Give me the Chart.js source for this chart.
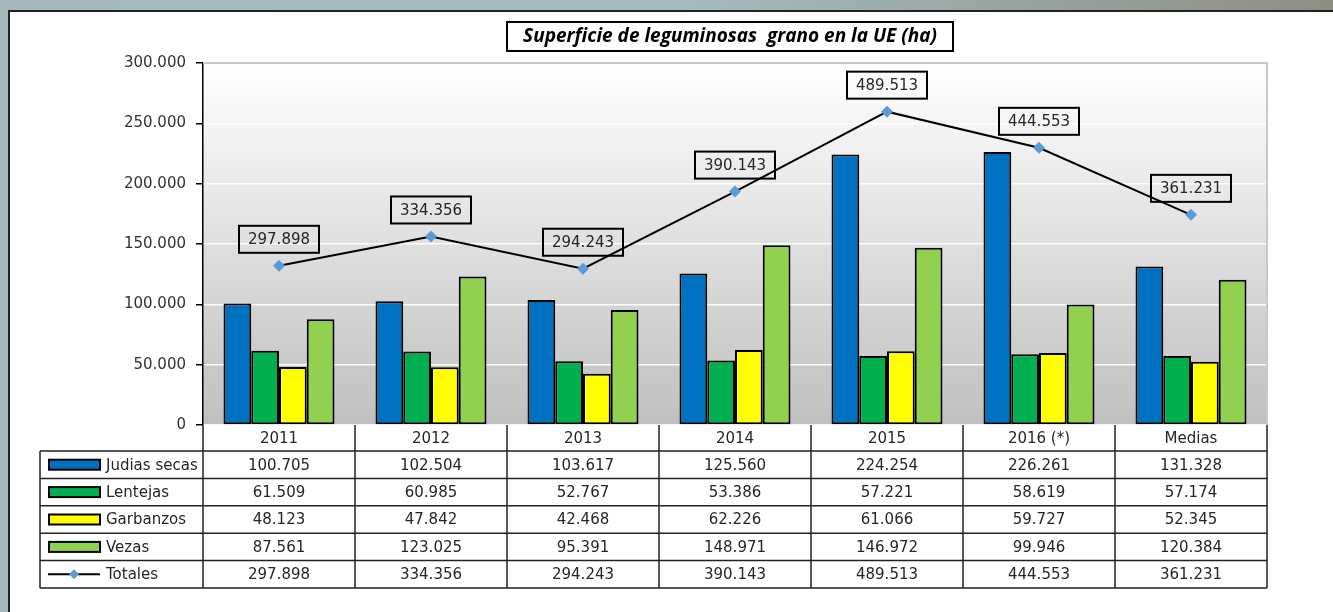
<!DOCTYPE html>
<html>
<head>
<meta charset="utf-8">
<script src="https://cdn.jsdelivr.net/npm/chart.js@4"></script>
<style>
   html, body { margin: 0; padding: 0; }
   body {
      width: 1333px; height: 612px; overflow: hidden; position: relative;
      background: linear-gradient(to right, #a3b9bd, #a4bcc0 50%, #8e8e84);
   }
   #panel {
      position: absolute; left: 8px; top: 10px; width: 1340px; height: 610px;
      background: #fff; border-left: 2px solid #222; border-top: 2px solid #222;
   }
   #wrap { position: absolute; left: 0; top: 0; width: 1333px; height: 612px; }
</style>
</head>
<body>
<div id="panel"></div>
<div id="wrap"><canvas id="myChart"></canvas></div>
<script>
const categories = ["2011", "2012", "2013", "2014", "2015", "2016 (*)", "Medias"];
const judias = [100705, 102504, 103617, 125560, 224254, 226261, 131328];
const lentejas = [61509, 60985, 52767, 53386, 57221, 58619, 57174];
const garbanzos = [48123, 47842, 42468, 62226, 61066, 59727, 52345];
const vezas = [87561, 123025, 95391, 148971, 146972, 99946, 120384];
const totales = [297898, 334356, 294243, 390143, 489513, 444553, 361231];
const yTicks = [0, 50000, 100000, 150000, 200000, 250000, 300000];

const FONT = "DejaVu Sans";
const TEXT = "#262626";

function fmt(n) {
   return String(n).replace(/\B(?=(\d{3})+(?!\d))/g, ".");
}

const rows = [
   { label: "Judias secas", color: "#0070c0", values: judias },
   { label: "Lentejas", color: "#00b050", values: lentejas },
   { label: "Garbanzos", color: "#ffff00", values: garbanzos },
   { label: "Vezas", color: "#92d050", values: vezas },
   { label: "Totales", line: true, values: totales },
];

const framePlugin = {
   id: "frame",
   beforeDraw(chart) {
      const { ctx, chartArea: a } = chart;
      const g = ctx.createLinearGradient(0, a.top, 0, a.bottom);
      g.addColorStop(0, "#ffffff");
      g.addColorStop(1, "#bfbfbf");
      ctx.save();
      ctx.fillStyle = g;
      ctx.fillRect(a.left, a.top, a.width, a.height);
      ctx.restore();
   },
   beforeDatasetsDraw(chart) {
      const { ctx, chartArea: a } = chart;
      ctx.save();
      ctx.strokeStyle = "#c8c8c8";
      ctx.lineWidth = 2;
      ctx.beginPath();
      ctx.moveTo(a.left, a.top);
      ctx.lineTo(a.right, a.top);
      ctx.lineTo(a.right, a.bottom);
      ctx.stroke();
      ctx.restore();
   },
   afterDatasetsDraw(chart) {
      // boxed labels over the totals line
      const { ctx } = chart;
      const meta = chart.getDatasetMeta(4);
      ctx.save();
      ctx.font = "15px " + FONT;
      ctx.textAlign = "center";
      ctx.textBaseline = "middle";
      meta.data.forEach((pt, i) => {
         const w = 80, h = 27;
         const x = pt.x - w / 2, y = pt.y - 13 - h;
         ctx.strokeStyle = "#000";
         ctx.lineWidth = 2;
         ctx.strokeRect(x, y, w, h);
         ctx.fillStyle = TEXT;
         ctx.fillText(fmt(totales[i]), pt.x, y + h / 2 + 1);
      });
      ctx.restore();
   },
   afterDraw(chart) {
      const { ctx, chartArea: a } = chart;
      const xs = chart.scales.x;
      const colW = a.width / categories.length;
      const headTop = a.bottom, headBot = a.bottom + 26;
      const rowH = 27.4;
      const tableBot = headBot + rowH * rows.length;
      const legLeft = 40;
      ctx.save();
      ctx.strokeStyle = "#222";
      ctx.lineWidth = 1.5;
      ctx.beginPath();
      for (let i = 0; i <= categories.length; i++) {
         const x = a.left + i * colW;
         ctx.moveTo(x, headTop);
         ctx.lineTo(x, tableBot);
      }
      ctx.moveTo(legLeft, headBot);
      ctx.lineTo(legLeft, tableBot);
      for (let r = 0; r <= rows.length; r++) {
         const y = headBot + r * rowH;
         ctx.moveTo(legLeft, y);
         ctx.lineTo(a.right, y);
      }
      ctx.stroke();

      ctx.font = "15px " + FONT;
      ctx.fillStyle = TEXT;
      ctx.textAlign = "center";
      ctx.textBaseline = "middle";
      categories.forEach((c, i) => {
         ctx.fillText(c, xs.getPixelForValue(i), (headTop + headBot) / 2 + 1);
      });
      rows.forEach((row, r) => {
         const cy = headBot + r * rowH + rowH / 2;
         row.values.forEach((v, i) => {
            ctx.fillStyle = TEXT;
            ctx.textAlign = "center";
            ctx.fillText(fmt(v), xs.getPixelForValue(i), cy + 1);
         });
         // legend key
         if (row.line) {
            ctx.strokeStyle = "#000";
            ctx.lineWidth = 2;
            ctx.beginPath();
            ctx.moveTo(48, cy);
            ctx.lineTo(100, cy);
            ctx.stroke();
            ctx.fillStyle = "#5b9bd5";
            ctx.beginPath();
            ctx.moveTo(74, cy - 5);
            ctx.lineTo(79, cy);
            ctx.lineTo(74, cy + 5);
            ctx.lineTo(69, cy);
            ctx.closePath();
            ctx.fill();
         } else {
            ctx.fillStyle = row.color;
            ctx.fillRect(49, cy - 5, 51, 10);
            ctx.strokeStyle = "#000";
            ctx.lineWidth = 2;
            ctx.strokeRect(49, cy - 5, 51, 10);
         }
         ctx.fillStyle = TEXT;
         ctx.textAlign = "left";
         ctx.fillText(row.label, 106, cy + 1);
      });

      // title box
      const title = "Superficie de leguminosas  grano en la UE (ha)";
      ctx.font = "italic bold 19px 'Open Sans'";
      ctx.textAlign = "center";
      ctx.fillStyle = "#000";
      ctx.fillText(title, 730, 37);
      ctx.strokeStyle = "#000";
      ctx.lineWidth = 2;
      ctx.strokeRect(507, 22, 446, 29);
      ctx.restore();
   },
};

const barDs = (label, data, color) => ({
   label: label,
   data: data,
   backgroundColor: color,
   borderColor: "#000",
   borderWidth: 2,
   borderSkipped: false,
   categoryPercentage: 0.73,
   barPercentage: 1,
   yAxisID: "y",
   order: 2,
});

const ctx = document.getElementById("myChart");
const myChart = new Chart(ctx, {
   type: "bar",
   data: {
      labels: categories,
      datasets: [
         barDs("Judias secas", judias, "#0070c0"),
         barDs("Lentejas", lentejas, "#00b050"),
         barDs("Garbanzos", garbanzos, "#ffff00"),
         barDs("Vezas", vezas, "#92d050"),
         {
            type: "line",
            label: "Totales",
            data: totales,
            yAxisID: "y2",
            borderColor: "#000",
            borderWidth: 2,
            pointStyle: "rectRot",
            pointRadius: 6,
            pointBackgroundColor: "#5b9bd5",
            pointBorderColor: "#5b9bd5",
            pointBorderWidth: 0,
            tension: 0,
            order: 0,
         },
      ],
   },
   options: {
      responsive: true,
      maintainAspectRatio: false,
      animation: false,
      layout: { padding: { top: 63, right: 66, bottom: 187, left: 0 } },
      plugins: {
         legend: { display: false },
         tooltip: { enabled: false },
      },
      scales: {
         x: { display: false },
         y: {
            min: 0,
            max: 300000,
            afterFit(scale) { scale.width = 203; },
            afterBuildTicks(scale) { scale.ticks = yTicks.map(v => ({ value: v })); },
            ticks: {
               color: "#333",
               font: { family: FONT, size: 15 },
               padding: 10,
               callback: v => fmt(v),
            },
            grid: {
               color: "rgba(255,255,255,0.9)",
               lineWidth: 1.5,
               tickColor: "#000",
               tickLength: 7,
            },
            border: { color: "#000", width: 1.5 },
         },
         y2: {
            display: false,
            min: 100000,
            max: 550000,
         },
      },
   },
   plugins: [framePlugin],
});
</script>
</body>
</html>
